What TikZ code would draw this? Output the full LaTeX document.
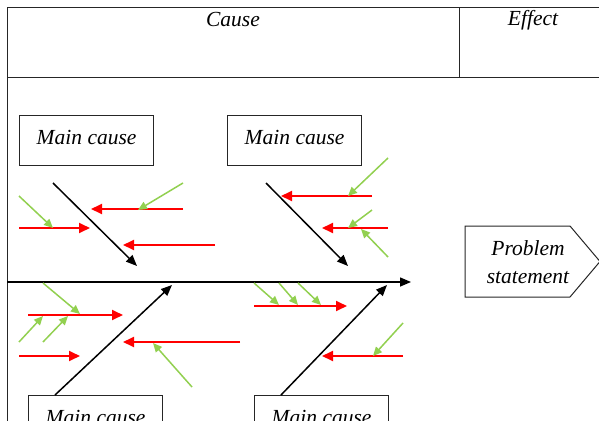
\documentclass[tikz,border=0pt]{standalone}
\usepackage{fontspec}
\setmainfont{Liberation Serif}
\usetikzlibrary{arrows.meta}
\definecolor{lgreen}{RGB}{146,208,80}
\definecolor{fred}{RGB}{255,0,0}
\begin{document}
\begin{tikzpicture}[x=1pt,y=-1pt,
  font=\fontsize{21.5}{28}\selectfont\itshape,
  frame/.style={draw=black!85,line width=1pt},
  mainbox/.style={draw=black!85,line width=1.2pt,minimum width=134pt,minimum height=50pt,anchor=north west,inner sep=0pt,text depth=6pt},
  bone/.style={draw=black,line width=1.5pt,-{Triangle[length=11pt,width=9pt]}},
  redarr/.style={draw=fred,line width=1.8pt,-{Triangle[length=11pt,width=10pt]}},
  grnarr/.style={draw=lgreen,line width=1.5pt,-{Triangle[length=9pt,width=8pt]}}]
\useasboundingbox (0,0) rectangle (599,420);
\clip (0,0) rectangle (599,420);
% table frame
\draw[frame] (640,8) -- (7,8) -- (7,460);
\draw[frame] (7,77) -- (640,77);
\draw[frame] (459,8) -- (459,77);
\node (cause) at (233,20) {Cause};
\node (effect) at (533,20) {Effect};
% problem statement
\draw[frame] (465,226) -- (570,226) -- (600,261.5) -- (570,297) -- (465,297) -- cycle;
\node[align=center] (ps) at (528,262) {Problem\\statement};
% main cause boxes
\node[mainbox] (mc1) at (19,115) {Main cause};
\node[mainbox] (mc2) at (227,115) {Main cause};
\node[mainbox] (mc3) at (28,395) {Main cause};
\node[mainbox] (mc4) at (254,395) {Main cause};
% spine
\coordinate (spS) at (7,282);
\coordinate (spE) at (411,282);
\draw[bone] (spS) -- (spE);
% bones
\coordinate (b1s) at (53,183);  \coordinate (b1e) at (137,266);
\coordinate (b2s) at (266,183); \coordinate (b2e) at (348,266);
\coordinate (b3s) at (55,395);  \coordinate (b3e) at (172,285);
\coordinate (b4s) at (281,395); \coordinate (b4e) at (387,285);
\draw[bone] (b1s) -- (b1e);
\draw[bone] (b2s) -- (b2e);
\draw[bone] (b3s) -- (b3e);
\draw[bone] (b4s) -- (b4e);
% red arrows
\coordinate (r1s) at (183,209); \coordinate (r1e) at (91,209);
\coordinate (r2s) at (19,228);  \coordinate (r2e) at (90,228);
\coordinate (r3s) at (215,245); \coordinate (r3e) at (123,245);
\coordinate (r4s) at (372,196); \coordinate (r4e) at (281,196);
\coordinate (r5s) at (388,228); \coordinate (r5e) at (322,228);
\coordinate (r6s) at (28,315);  \coordinate (r6e) at (123,315);
\coordinate (r7s) at (19,356);  \coordinate (r7e) at (80,356);
\coordinate (r8s) at (240,342); \coordinate (r8e) at (123,342);
\coordinate (r9s) at (254,306); \coordinate (r9e) at (347,306);
\coordinate (r10s) at (403,356); \coordinate (r10e) at (322,356);
\foreach \i in {1,...,10} {\draw[redarr] (r\i s) -- (r\i e);}
% green arrows
\coordinate (g1s) at (19,196);  \coordinate (g1e) at (53,228);
\coordinate (g2s) at (183,183); \coordinate (g2e) at (138,210);
\coordinate (g3s) at (388,158); \coordinate (g3e) at (348,196);
\coordinate (g4s) at (372,210); \coordinate (g4e) at (348,228);
\coordinate (g5s) at (388,257); \coordinate (g5e) at (361,229);
\coordinate (g6s) at (43,283);  \coordinate (g6e) at (80,314);
\coordinate (g7s) at (19,342);  \coordinate (g7e) at (43,316);
\coordinate (g8s) at (43,342);  \coordinate (g8e) at (68,316);
\coordinate (g9s) at (192,387); \coordinate (g9e) at (153,343);
\coordinate (g10s) at (254,283); \coordinate (g10e) at (279,305);
\coordinate (g11s) at (279,283); \coordinate (g11e) at (298,305);
\coordinate (g12s) at (298,283); \coordinate (g12e) at (321,305);
\coordinate (g13s) at (403,323); \coordinate (g13e) at (373,356);
\foreach \i in {1,...,13} {\draw[grnarr] (g\i s) -- (g\i e);}
\end{tikzpicture}
\end{document}
